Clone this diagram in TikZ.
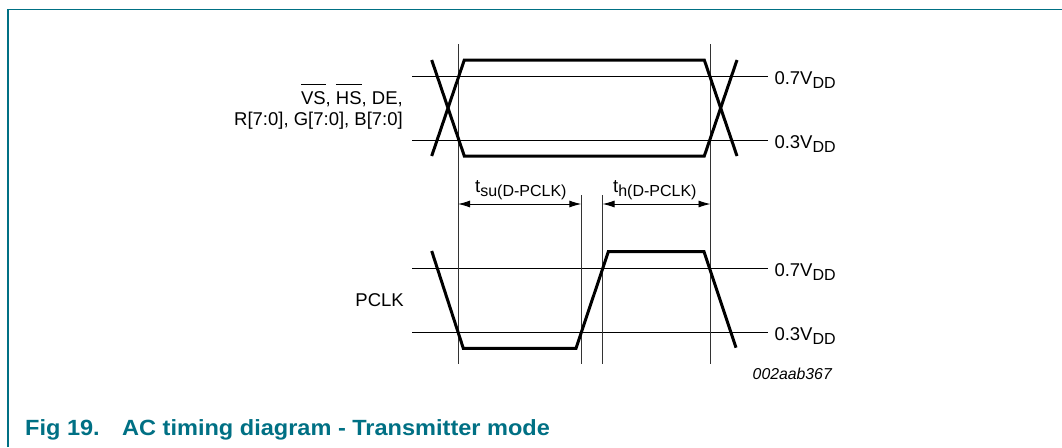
\documentclass[tikz,border=0pt]{standalone}
\usepackage{fontspec}
\setmainfont{Liberation Sans}
\newfontfamily\titlefont[FakeStretch=1.07]{Liberation Sans}
\usetikzlibrary{arrows.meta}
\definecolor{nxpteal}{RGB}{0,112,132}
\newcommand\ovl[1]{\setbox0=\hbox{#1}\rlap{\rule[19pt]{\wd0}{0.9pt}}\box0}
\newcommand\subtxt[1]{\raisebox{-4pt}{\fontsize{16}{16}\selectfont #1}}
\begin{document}
\begin{tikzpicture}[x=1pt,y=-1pt,
  wave/.style={line width=3pt, line join=miter},
  lvline/.style={line width=1pt},
  vline/.style={line width=0.9pt, black!80},
  dimarrow/.style={{Latex[length=12pt,width=7pt]}-{Latex[length=12pt,width=7pt]}, line width=0.9pt},
  lbl/.style={font=\fontsize{18.5}{21}\selectfont, inner sep=0pt},
  figframe/.style={nxpteal, line width=1.5pt}]
\useasboundingbox (0,0) rectangle (1062,447);
% frame
\draw[figframe] (8,447) -- (8,9.3) -- (1062,9.3);
% level lines
\coordinate (u7a) at (412,76);    \coordinate (u7b) at (767.7,76);
\coordinate (u3a) at (412,140);   \coordinate (u3b) at (767.7,140);
\coordinate (l7a) at (412,268.3); \coordinate (l7b) at (767.7,268.3);
\coordinate (l3a) at (412,332.3); \coordinate (l3b) at (767.7,332.3);
\draw[lvline] (u7a) -- (u7b);
\draw[lvline] (u3a) -- (u3b);
\draw[lvline] (l7a) -- (l7b);
\draw[lvline] (l3a) -- (l3b);
% vertical reference lines
\coordinate (v1t) at (458,44);    \coordinate (v1b) at (458,364);
\coordinate (v2t) at (581.3,195); \coordinate (v2b) at (581.3,364);
\coordinate (v3t) at (602.5,195); \coordinate (v3b) at (602.5,364);
\coordinate (v4t) at (710.5,44);  \coordinate (v4b) at (710.5,364);
\draw[vline] (v1t) -- (v1b);
\draw[vline] (v2t) -- (v2b);
\draw[vline] (v3t) -- (v3b);
\draw[vline] (v4t) -- (v4b);
% data waveform
\draw[wave] (431.7,156) -- (464.3,60) -- (704.3,60) -- (737,156);
\draw[wave] (431.7,60) -- (464.3,156) -- (704.3,156) -- (737,60);
% PCLK waveform
\draw[wave] (431.7,251) -- (463.3,348.3) -- (576,348.3) -- (608.3,251.7) -- (704,251.7) -- (736,347.7);
% dimension arrows
\coordinate (a1) at (458,204);   \coordinate (a2) at (581.3,204);
\coordinate (a3) at (602.5,204); \coordinate (a4) at (710.5,204);
\draw[dimarrow] (a1) -- (a2);
\draw[dimarrow] (a3) -- (a4);
% labels
\node[lbl, anchor=base west] (tsu) at (475,192) {t\subtxt{su(D-PCLK)}};
\node[lbl, anchor=base west] (th) at (613,192) {t\subtxt{h(D-PCLK)}};
\node[lbl, anchor=base east] (data1) at (403,104) {\ovl{VS}, \ovl{HS}, DE,};
\node[lbl, anchor=base east] (data2) at (403,125) {R[7:0], G[7:0], B[7:0]};
\node[lbl, anchor=base east] (pclk) at (404,306) {PCLK};
\node[lbl, anchor=base west] (r1) at (774.3,84) {0.7V\subtxt{DD}};
\node[lbl, anchor=base west] (r2) at (774.3,148) {0.3V\subtxt{DD}};
\node[lbl, anchor=base west] (r3) at (774.3,276.5) {0.7V\subtxt{DD}};
\node[lbl, anchor=base west] (r4) at (774.3,340) {0.3V\subtxt{DD}};
\node[inner sep=0pt, anchor=base east, font=\fontsize{15.8}{18}\selectfont\itshape] (code) at (832,379.5) {002aab367};
\node[inner sep=0pt, anchor=base west, text=nxpteal, font=\titlefont\bfseries\fontsize{22}{26}\selectfont] (title) at (25,435) {\makebox[97pt][l]{Fig 19.}AC timing diagram - Transmitter mode};
\end{tikzpicture}
\end{document}
